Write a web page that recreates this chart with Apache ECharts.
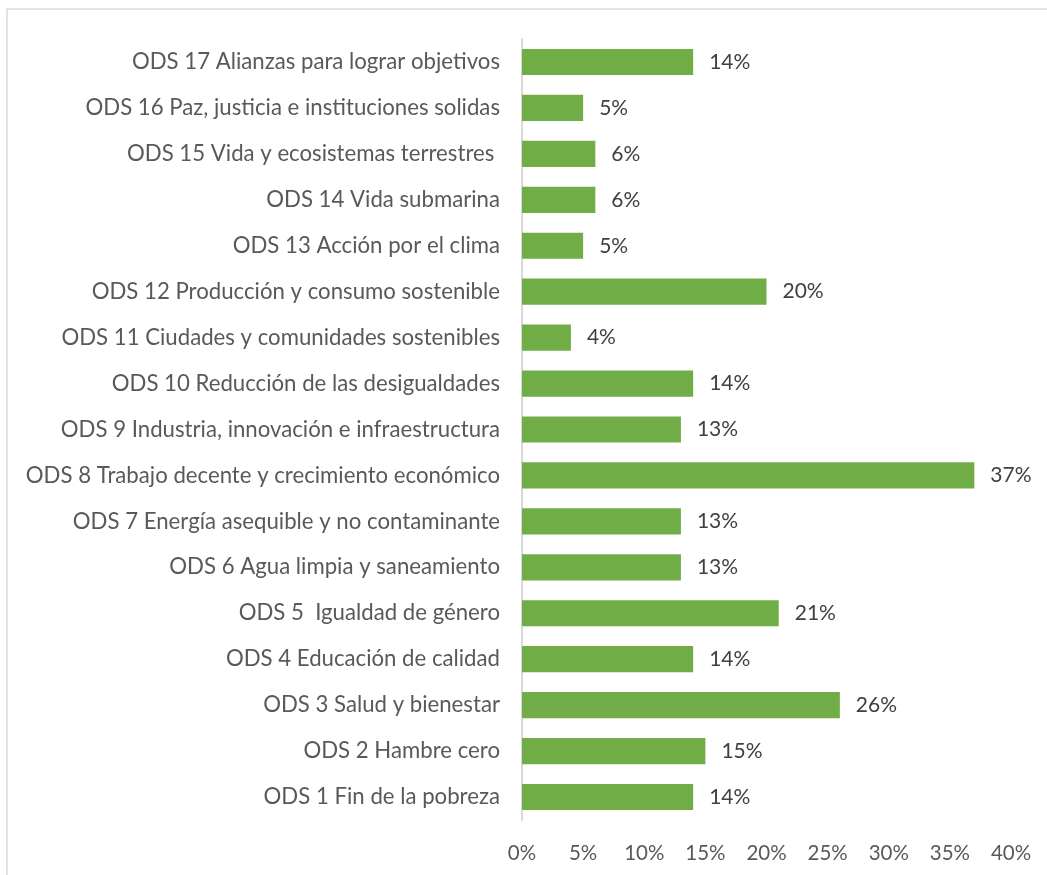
<!DOCTYPE html>
<html>
<head>
<meta charset="utf-8">
<script src="https://cdn.jsdelivr.net/npm/echarts@6/dist/echarts.min.js"></script>
<style>
html,body{margin:0;padding:0;background:#fff;}
#chart{width:1047px;height:875px;}
</style>
</head>
<body>
<div id="chart"></div>
<script>
var categories = [
  "ODS 1 Fin de la pobreza",
  "ODS 2 Hambre cero",
  "ODS 3 Salud y bienestar",
  "ODS 4 Educación de calidad",
  "ODS 5  Igualdad de género",
  "ODS 6 Agua limpia y saneamiento",
  "ODS 7 Energía asequible y no contaminante",
  "ODS 8 Trabajo decente y crecimiento económico",
  "ODS 9 Industria, innovación e infraestructura",
  "ODS 10 Reducción de las desigualdades",
  "ODS 11 Ciudades y comunidades sostenibles",
  "ODS 12 Producción y consumo sostenible",
  "ODS 13 Acción por el clima",
  "ODS 14 Vida submarina",
  "ODS 15 Vida y ecosistemas terrestres ",
  "ODS 16 Paz, justicia e instituciones solidas",
  "ODS 17 Alianzas para lograr objetivos"
];
var values = [14, 15, 26, 14, 21, 13, 13, 37, 13, 14, 4, 20, 5, 6, 6, 5, 14];
var xTicks = [0, 5, 10, 15, 20, 25, 30, 35, 40];

var chart = echarts.init(document.getElementById('chart'));
var fontFam = 'Lato, sans-serif';
chart.setOption({
  animation: false,
  backgroundColor: '#ffffff',
  graphic: [{
    type: 'rect',
    shape: {x: 7, y: 9, width: 1100, height: 900},
    style: {fill: 'none', stroke: '#d9d9d9', lineWidth: 1.5}
  }],
  grid: {left: 522, right: 36, top: 39, bottom: 55, containLabel: false},
  xAxis: {
    type: 'value',
    min: xTicks[0],
    max: xTicks[xTicks.length - 1],
    interval: xTicks[1] - xTicks[0],
    axisLine: {show: false},
    axisTick: {show: false},
    splitLine: {show: false},
    axisLabel: {
      formatter: function (v) { return v + '%'; },
      color: '#595959',
      fontSize: 20.5,
      fontFamily: fontFam,
      margin: 23
    }
  },
  yAxis: {
    type: 'category',
    data: categories,
    axisLine: {show: true, lineStyle: {color: '#d9d9d9', width: 2}},
    axisTick: {show: false},
    axisLabel: {
      color: '#595959',
      fontSize: 22.2,
      fontFamily: fontFam,
      margin: 22
    }
  },
  series: [{
    type: 'bar',
    data: values,
    barCategoryGap: '43%',
    itemStyle: {color: '#70AD47'},
    label: {
      show: true,
      position: 'right',
      distance: 16,
      formatter: function (p) { return p.value + '%'; },
      color: '#404040',
      fontSize: 21,
      fontFamily: fontFam
    }
  }]
});
</script>
</body>
</html>
